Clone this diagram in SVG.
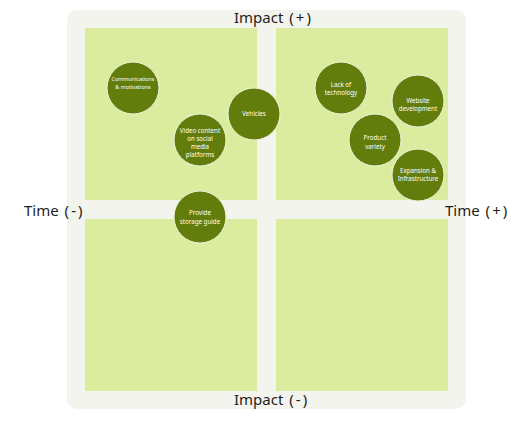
<svg xmlns="http://www.w3.org/2000/svg" width="521" height="422" viewBox="0 0 521 422">
<style>
.q{fill:#dcec9f}
.c{fill:#627d0c;stroke:#eef3dc;stroke-width:1}
.t{font-family:"Noto Sans","Open Sans",sans-serif;font-size:6.2px;fill:#ffffff;text-anchor:middle}
.s{font-size:5.4px}
.ax{font-family:"Noto Sans","Open Sans",sans-serif;font-size:15px;fill:#1e1e1e}
</style>
<rect x="67" y="10" width="399" height="399" rx="10" fill="#f3f4ee"/>
<rect class="q" x="85" y="28" width="172" height="172"/>
<rect class="q" x="276" y="28" width="172" height="172"/>
<rect class="q" x="85" y="219" width="172" height="172"/>
<rect class="q" x="276" y="219" width="172" height="172"/>
<text class="ax" x="234" y="23">Impact <tspan dx="2">(</tspan><tspan dx="2">+</tspan><tspan dx="2">)</tspan></text>
<text class="ax" x="234" y="405">Impact <tspan dx="2">(</tspan><tspan dx="2">-</tspan><tspan dx="2">)</tspan></text>
<text class="ax" x="24" y="216">Time <tspan dx="2">(</tspan><tspan dx="2">-</tspan><tspan dx="2">)</tspan></text>
<text class="ax" x="445" y="216">Time <tspan dx="2">(</tspan><tspan dx="2">+</tspan><tspan dx="2">)</tspan></text>
<g id="connectors"></g>
<g id="n-comm"><circle class="c" cx="133" cy="88" r="26"/><text class="t s" x="133" y="81">Communications</text><text class="t s" x="133" y="89">&amp; motivations</text></g>
<g id="n-vehicles"><circle class="c" cx="254" cy="114" r="26"/><text class="t" x="254" y="116">Vehicles</text></g>
<g id="n-video"><circle class="c" cx="200" cy="140" r="26"/><text class="t" x="200" y="133">Video content</text><text class="t" x="200" y="141">on social</text><text class="t" x="200" y="149">media</text><text class="t" x="200" y="157">platforms</text></g>
<g id="n-lack"><circle class="c" cx="341" cy="88" r="26"/><text class="t" x="341" y="87">Lack of</text><text class="t" x="341" y="95">technology</text></g>
<g id="n-web"><circle class="c" cx="418" cy="101" r="26"/><text class="t" x="418" y="103">Website</text><text class="t" x="418" y="111">development</text></g>
<g id="n-product"><circle class="c" cx="375" cy="140" r="26"/><text class="t" x="375" y="140">Product</text><text class="t" x="375" y="149">variety</text></g>
<g id="n-expansion"><circle class="c" cx="418" cy="175" r="26"/><text class="t" x="418" y="173">Expansion &amp;</text><text class="t" x="418" y="181">Infrastructure</text></g>
<g id="n-storage"><circle class="c" cx="200" cy="217" r="26"/><text class="t" x="200" y="215">Provide</text><text class="t" x="200" y="224">storage guide</text></g>
</svg>
